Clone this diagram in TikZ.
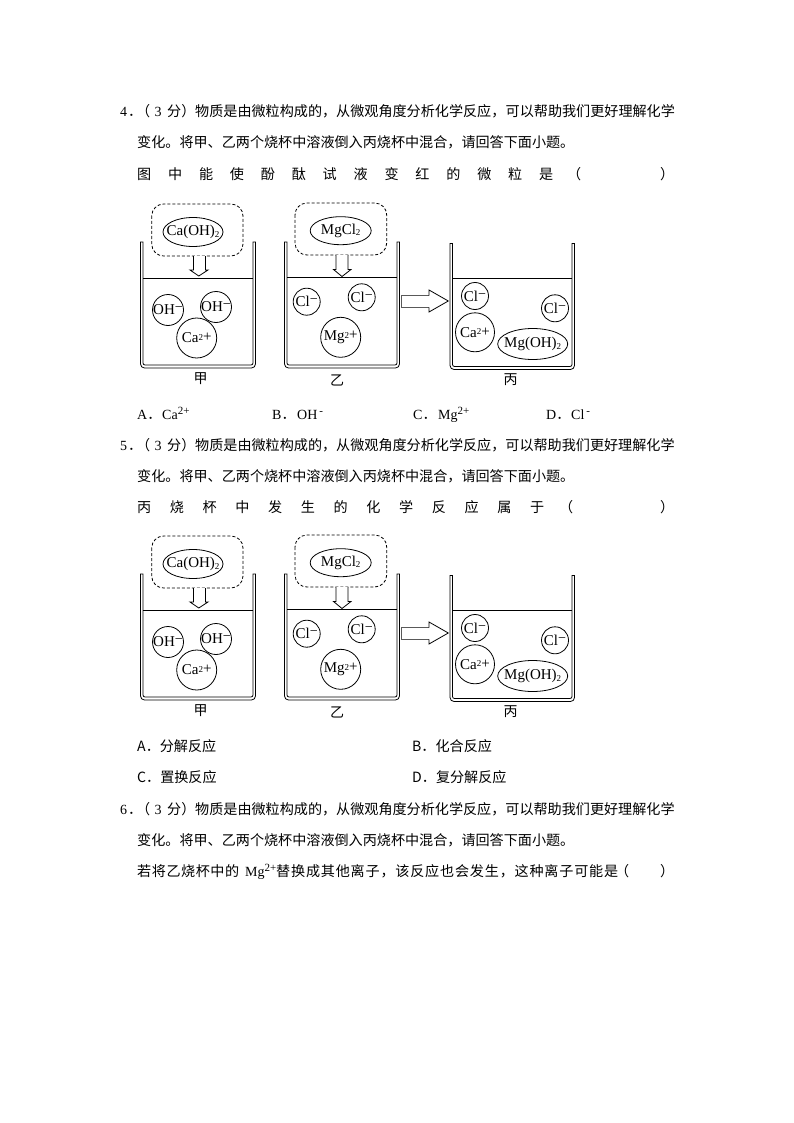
\documentclass[tikz,border=0pt]{standalone}
\usepackage{fontspec}
\setmainfont{Liberation Serif}
\newfontfamily\cjk{Noto Sans CJK SC}
\usetikzlibrary{shapes.geometric}
\tikzset{
	txt/.style={anchor=base west, inner sep=0, font=\fontsize{14.1}{16}\selectfont\cjk},
	lat/.style={anchor=base west, inner sep=0, font=\fontsize{14}{16}\selectfont},
	tag/.style={inner sep=0, font=\fontsize{14}{16}\selectfont\cjk},
	ion/.style={draw, circle, inner sep=0, line width=0.8pt, font=\fontsize{15}{15}\selectfont},
	salt/.style={draw, ellipse, inner sep=0, line width=0.8pt, font=\fontsize{15}{15}\selectfont},
	bubble/.style={draw, dash pattern=on 3pt off 2pt, rounded corners=12pt, line width=0.8pt},
	beaker/.style={draw, line width=0.8pt},
	level/.style={draw, line width=0.9pt},
	pour/.style={draw, line width=0.8pt, fill=white}
}
\newcommand{\ctr}[1]{\makebox[0pt]{#1}}
\newcommand{\chgplus}{\raisebox{2.5pt}{\fontsize{9}{9}\selectfont 2}\raisebox{1pt}{+}}
\newcommand{\chgminus}{\raisebox{3pt}{\fontsize{14}{14}\selectfont −}}
\newcommand{\subtwo}{\raisebox{-1.5pt}{\fontsize{9}{9}\selectfont 2}}
\newcommand{\supchg}[1]{\raisebox{5pt}{\fontsize{11}{11}\selectfont #1}}
\newcommand{\optlabel}[1]{\makebox[25pt][l]{#1{\cjk ．}}}
% one row of three beakers, #1 is the node prefix, #2 the vertical offset
\newcommand{\beakerrow}[2]{
	\begin{scope}[shift={(0,#2)}]
		% first beaker
		\path[beaker] (140.5,242) [rounded corners=4pt] -- (140.5,368) -- (255.5,368) [sharp corners] -- (255.5,242) -- (253,242) [rounded corners=2pt] -- (253,365) -- (143,365) [sharp corners] -- (143,242) -- cycle;
		\path[level] (143,278) -- (253,278);
		\path[bubble] (151.7,204) rectangle (243,256);
		\node[salt, minimum width=60pt, minimum height=29pt] (#1caoh) at (193,232) {\ctr{Ca(OH)\subtwo}};
		\path[pour] (193.5,256) -- (193.5,270) -- (190,270) -- (198.8,276) -- (208,270) -- (205.5,270) -- (205.5,256);
		\node[ion, minimum size=31pt] (#1oha) at (168,310) {\ctr{OH\chgminus}};
		\node[ion, minimum size=31pt] (#1ohb) at (216,307) {\ctr{OH\chgminus}};
		\node[ion, minimum size=40pt] (#1ca) at (196.7,338) {\ctr{Ca\chgplus}};
		\node[tag] (#1jia) at (200.5,379) {甲};
		% second beaker
		\path[beaker] (284.5,242) [rounded corners=4pt] -- (284.5,368) -- (399.5,368) [sharp corners] -- (399.5,242) -- (397,242) [rounded corners=2pt] -- (397,365) -- (287,365) [sharp corners] -- (287,242) -- cycle;
		\path[level] (287,277) -- (397,277);
		\path[bubble] (295,203) rectangle (386.7,255);
		\node[salt, minimum width=61pt, minimum height=28pt] (#1mgcl) at (340.7,230.7) {\ctr{MgCl\subtwo}};
		\path[pour] (336,255) -- (336,269.5) -- (333.5,269.5) -- (342,276.5) -- (351,269.5) -- (348,269.5) -- (348,255);
		\node[ion, minimum size=27pt] (#1cla) at (306.7,301.7) {\ctr{Cl\chgminus}};
		\node[ion, minimum size=27pt] (#1clb) at (361.7,297.3) {\ctr{Cl\chgminus}};
		\node[ion, minimum size=40pt] (#1mg) at (340.7,337.3) {\ctr{Mg\chgplus}};
		\node[tag] (#1yi) at (337,380) {乙};
		% big arrow between the beakers
		\draw[line width=1.1pt, gray!70!black] (429,295.7) -- (401.7,295.7) -- (401.7,307.3) -- (429,307.3);
		\draw[line width=0.8pt] (429,295.7) -- (429,290) -- (448.3,301) -- (429,312) -- (429,307.3);
		% third beaker
		\path[beaker] (450,243.5) [rounded corners=4pt] -- (450,369.5) -- (574.5,369.5) [sharp corners] -- (574.5,243.5) -- (572,243.5) [rounded corners=2pt] -- (572,366.5) -- (452.5,366.5) [sharp corners] -- (452.5,243.5) -- cycle;
		\path[level] (452.5,278.3) -- (572,278.3);
		\node[ion, minimum size=27pt] (#1clc) at (475,296) {\ctr{Cl\chgminus}};
		\node[ion, minimum size=27pt] (#1cld) at (555,308.3) {\ctr{Cl\chgminus}};
		\node[ion, minimum size=39pt] (#1cb) at (475,332.3) {\ctr{Ca\chgplus}};
		\node[salt, minimum width=70pt, minimum height=31pt] (#1mgoh) at (532.7,344) {\ctr{Mg(OH)\subtwo}};
		\node[tag] (#1bing) at (510.5,380) {丙};
	\end{scope}
}
% spread characters over a given width
\newcommand{\wide}[2]{\makebox[#1pt][s]{#2}}
\begin{document}
\begin{tikzpicture}[x=1pt, y=-1pt]
	\useasboundingbox (0,0) rectangle (794,1123);
	\fill[white] (0,0) rectangle (794,1123);
	% question 4
	\node[lat] (qda) at (120,117) {4};
	\node[txt] (qdb) at (128,117) {．};
	\node[txt] (qdn) at (136,117) {（};
	\node[lat] (qdc) at (154.5,117) {3};
	\node[txt] (qdd) at (167,117) {分）};
	\node[txt] (qde) at (195,117) {物质是由微粒构成的，};
	\node[txt] (qdo) at (336,117) {从微观角度分析化学反应，};
	\node[txt] (qdp) at (505.5,117) {可以帮助我们更好理解化学};
	\node[txt] (qdf) at (137,148) {变化。将甲、乙两个烧杯中溶液倒入丙烧杯中混合，请回答下面小题。};
	\node[txt] (qdg) at (137,179.5) {\wide{416}{图\hfill 中\hfill 能\hfill 使\hfill 酚\hfill 酞\hfill 试\hfill 液\hfill 变\hfill 红\hfill 的\hfill 微\hfill 粒\hfill 是}};
	\node[txt] (qdh) at (567,179.5) {（};
	\node[txt] (qdi) at (660,179.5) {）};
	\beakerrow{a}{0}
	\node[lat] (qdj) at (137,419) {\optlabel{A}Ca\supchg{2+}};
	\node[lat] (qdk) at (272,419) {\optlabel{B}OH\hspace{2pt}\supchg{-}};
	\node[lat] (qdl) at (413,419) {\optlabel{C}Mg\supchg{2+}};
	\node[lat] (qdm) at (546,419) {\optlabel{D}Cl\hspace{2pt}\supchg{-}};
	% question 5
	\node[lat] (qea) at (120,450) {5};
	\node[txt] (qeb) at (128,450) {．};
	\node[txt] (qen) at (136,450) {（};
	\node[lat] (qec) at (154.5,450) {3};
	\node[txt] (qed) at (167,450) {分）};
	\node[txt] (qee) at (195,450) {物质是由微粒构成的，从微观角度分析化学反应，可以帮助我们更好理解化学};
	\node[txt] (qef) at (137,481) {变化。将甲、乙两个烧杯中溶液倒入丙烧杯中混合，请回答下面小题。};
	\node[txt] (qeg) at (137,512.5) {\wide{407}{丙\hfill 烧\hfill 杯\hfill 中\hfill 发\hfill 生\hfill 的\hfill 化\hfill 学\hfill 反\hfill 应\hfill 属\hfill 于}};
	\node[txt] (qeh) at (559,512.5) {（};
	\node[txt] (qei) at (660,512.5) {）};
	\beakerrow{b}{332}
	\node[txt] (qej) at (137,751) {A．分解反应};
	\node[txt] (qek) at (412,751) {B．化合反应};
	\node[txt] (qel) at (137,782) {C．置换反应};
	\node[txt] (qem) at (412,782) {D．复分解反应};
	% question 6
	\node[lat] (qfa) at (120,814) {6};
	\node[txt] (qfb) at (128,814) {．};
	\node[txt] (qfn) at (136,814) {（};
	\node[lat] (qfc) at (154.5,814) {3};
	\node[txt] (qfd) at (167,814) {分）};
	\node[txt] (qfe) at (195,814) {物质是由微粒构成的，从微观角度分析化学反应，可以帮助我们更好理解化学};
	\node[txt] (qff) at (137,845) {变化。将甲、乙两个烧杯中溶液倒入丙烧杯中混合，请回答下面小题。};
	\node[txt] (qfg) at (137,876) {\wide{102}{若\hfill 将\hfill 乙\hfill 烧\hfill 杯\hfill 中\hfill 的}};
	\node[lat] (qfh) at (245,876) {Mg\supchg{2+}};
	\node[txt] (qfi) at (276,876) {\wide{342}{替\hfill 换\hfill 成\hfill 其\hfill 他\hfill 离\hfill 子\hfill ，\hfill 该\hfill 反\hfill 应\hfill 也\hfill 会\hfill 发\hfill 生\hfill ，\hfill 这\hfill 种\hfill 离\hfill 子\hfill 可\hfill 能\hfill 是}};
	\node[txt] (qfj) at (615,876) {（};
	\node[txt] (qfk) at (660,876) {）};
\end{tikzpicture}
\end{document}
